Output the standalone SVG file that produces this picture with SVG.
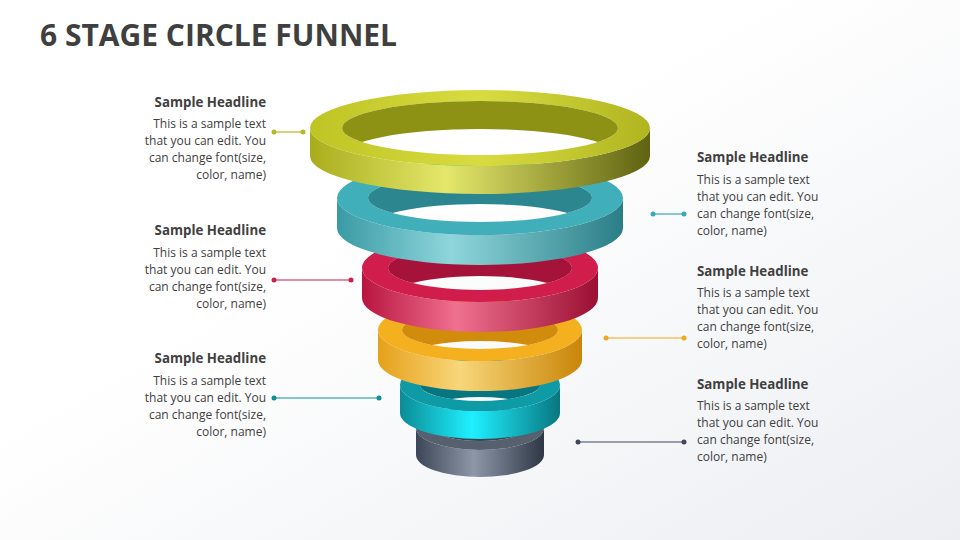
<svg xmlns="http://www.w3.org/2000/svg" width="960" height="540" viewBox="0 0 960 540">
<defs>
<linearGradient id="bg" x1="0" y1="0" x2="1" y2="1"><stop offset="0.4" stop-color="#ffffff"/><stop offset="1" stop-color="#eceef2"/></linearGradient>
<linearGradient id="s1" x1="0" x2="1"><stop offset="0" stop-color="#a9ad1c"/><stop offset="0.4" stop-color="#e4e76a"/><stop offset="1" stop-color="#5f6210"/></linearGradient>
<linearGradient id="s2" x1="0" x2="1"><stop offset="0" stop-color="#3a9aa4"/><stop offset="0.4" stop-color="#8fd6dc"/><stop offset="1" stop-color="#2a7d86"/></linearGradient>
<linearGradient id="s3" x1="0" x2="1"><stop offset="0" stop-color="#b8143f"/><stop offset="0.4" stop-color="#f0708f"/><stop offset="1" stop-color="#9a0f33"/></linearGradient>
<linearGradient id="s4" x1="0" x2="1"><stop offset="0" stop-color="#e6a01a"/><stop offset="0.4" stop-color="#f8d67a"/><stop offset="1" stop-color="#c98508"/></linearGradient>
<linearGradient id="s5" x1="0" x2="1"><stop offset="0" stop-color="#0a8c96"/><stop offset="0.45" stop-color="#1ff0ff"/><stop offset="1" stop-color="#087680"/></linearGradient>
<linearGradient id="s6" x1="0" x2="1"><stop offset="0" stop-color="#3d4656"/><stop offset="0.45" stop-color="#8d97a8"/><stop offset="1" stop-color="#2f3745"/></linearGradient>
<linearGradient id="t1" x1="0" x2="1"><stop offset="0" stop-color="#bfc425"/><stop offset="0.5" stop-color="#d8dc40"/><stop offset="1" stop-color="#b0b520"/></linearGradient>
<mask id="m1"><rect width="960" height="540" fill="#fff"/><ellipse cx="480" cy="156" rx="138" ry="27" fill="#000"/></mask>
<mask id="m2"><rect width="960" height="540" fill="#fff"/><ellipse cx="480" cy="228" rx="112" ry="24" fill="#000"/></mask>
<mask id="m3"><rect width="960" height="540" fill="#fff"/><ellipse cx="480" cy="298" rx="92" ry="22" fill="#000"/></mask>
<mask id="m4"><rect width="960" height="540" fill="#fff"/><ellipse cx="480" cy="360" rx="78" ry="19" fill="#000"/></mask>
<mask id="m5"><rect width="960" height="540" fill="#fff"/><ellipse cx="480" cy="413" rx="60" ry="16" fill="#000"/></mask>
<mask id="m6"><rect width="960" height="540" fill="#fff"/><ellipse cx="480" cy="455" rx="46" ry="13" fill="#000"/></mask>
</defs>
<style>
.h{font-family:"Open Sans","Liberation Sans",sans-serif;font-weight:bold;font-size:13.3px;fill:#404040}
.b{font-family:"Open Sans","Liberation Sans",sans-serif;font-size:12px;fill:#404040}
.r{text-anchor:end}
</style>
<rect width="960" height="540" fill="url(#bg)"/>
<text x="40" y="46" font-family="Open Sans,Liberation Sans,sans-serif" font-weight="bold" font-size="30" fill="#3f3f3f">6 STAGE CIRCLE FUNNEL</text>

<g id="ring6">
<path d="M416,428 A64,22 0 0 0 544,428 L544,455 A64,22 0 0 1 416,455 Z" fill="url(#s6)"/>
<path fill-rule="evenodd" fill="#56606f" d="M416,428 A64,22 0 1 0 544,428 A64,22 0 1 0 416,428 Z M434,428 A46,13 0 1 0 526,428 A46,13 0 1 0 434,428 Z"/>
<ellipse cx="480" cy="428" rx="46" ry="13" fill="#3b4350" mask="url(#m6)"/>
</g>
<g id="ring5">
<path d="M400,385 A80,26 0 0 0 560,385 L560,413 A80,26 0 0 1 400,413 Z" fill="url(#s5)"/>
<path fill-rule="evenodd" fill="#0f9ba6" d="M400,385 A80,26 0 1 0 560,385 A80,26 0 1 0 400,385 Z M420,385 A60,16 0 1 0 540,385 A60,16 0 1 0 420,385 Z"/>
<ellipse cx="480" cy="385" rx="60" ry="16" fill="#087680" mask="url(#m5)"/>
</g>
<g id="ring4">
<path d="M378,330 A102,31 0 0 0 582,330 L582,360 A102,31 0 0 1 378,360 Z" fill="url(#s4)"/>
<path fill-rule="evenodd" fill="#f4b01e" d="M378,330 A102,31 0 1 0 582,330 A102,31 0 1 0 378,330 Z M402,330 A78,19 0 1 0 558,330 A78,19 0 1 0 402,330 Z"/>
<ellipse cx="480" cy="330" rx="78" ry="19" fill="#d28c0c" mask="url(#m4)"/>
</g>
<g id="ring3">
<path d="M362,268 A118,34 0 0 0 598,268 L598,298 A118,34 0 0 1 362,298 Z" fill="url(#s3)"/>
<path fill-rule="evenodd" fill="#d11d4c" d="M362,268 A118,34 0 1 0 598,268 A118,34 0 1 0 362,268 Z M388,268 A92,22 0 1 0 572,268 A92,22 0 1 0 388,268 Z"/>
<ellipse cx="480" cy="268" rx="92" ry="22" fill="#a5123a" mask="url(#m3)"/>
</g>
<g id="ring2">
<path d="M337,198 A143,37 0 0 0 623,198 L623,228 A143,37 0 0 1 337,228 Z" fill="url(#s2)"/>
<path fill-rule="evenodd" fill="#40afba" d="M337,198 A143,37 0 1 0 623,198 A143,37 0 1 0 337,198 Z M368,198 A112,24 0 1 0 592,198 A112,24 0 1 0 368,198 Z"/>
<ellipse cx="480" cy="198" rx="112" ry="24" fill="#2b8690" mask="url(#m2)"/>
</g>
<g id="ring1">
<path d="M310,128 A170,38 0 0 0 650,128 L650,156 A170,38 0 0 1 310,156 Z" fill="url(#s1)"/>
<path fill-rule="evenodd" fill="url(#t1)" d="M310,128 A170,38 0 1 0 650,128 A170,38 0 1 0 310,128 Z M342,128 A138,27 0 1 0 618,128 A138,27 0 1 0 342,128 Z"/>
<ellipse cx="480" cy="128" rx="138" ry="27" fill="#8e9214" mask="url(#m1)"/>
</g>

<g id="connectors" stroke-width="1.2">
<line x1="274" y1="132" x2="303" y2="132" stroke="#b5ba22"/><circle cx="274" cy="132" r="2.5" fill="#b5ba22"/><circle cx="303" cy="132" r="2.5" fill="#b5ba22"/>
<line x1="653" y1="214" x2="684" y2="214" stroke="#3aa9b4"/><circle cx="653" cy="214" r="2.5" fill="#3aa9b4"/><circle cx="684" cy="214" r="2.5" fill="#3aa9b4"/>
<line x1="274" y1="280" x2="351" y2="280" stroke="#cf1f4d"/><circle cx="274" cy="280" r="2.5" fill="#cf1f4d"/><circle cx="351" cy="280" r="2.5" fill="#cf1f4d"/>
<line x1="606" y1="338" x2="684" y2="338" stroke="#f0a91c"/><circle cx="606" cy="338" r="2.5" fill="#f0a91c"/><circle cx="684" cy="338" r="2.5" fill="#f0a91c"/>
<line x1="274" y1="398" x2="379" y2="398" stroke="#0e8f99"/><circle cx="274" cy="398" r="2.5" fill="#0e8f99"/><circle cx="379" cy="398" r="2.5" fill="#0e8f99"/>
<line x1="578" y1="442" x2="684" y2="442" stroke="#3f4858"/><circle cx="578" cy="442" r="2.5" fill="#3f4858"/><circle cx="684" cy="442" r="2.5" fill="#3f4858"/>
</g>

<g id="label1"><text class="h r" x="266" y="107">Sample Headline</text><text class="b r" x="266" y="128">This is a sample text</text><text class="b r" x="266" y="145">that you can edit. You</text><text class="b r" x="266" y="162">can change font(size,</text><text class="b r" x="266" y="179">color, name)</text></g>
<g id="label3"><text class="h r" x="266" y="235">Sample Headline</text><text class="b r" x="266" y="257">This is a sample text</text><text class="b r" x="266" y="274">that you can edit. You</text><text class="b r" x="266" y="291">can change font(size,</text><text class="b r" x="266" y="308">color, name)</text></g>
<g id="label5"><text class="h r" x="266" y="363">Sample Headline</text><text class="b r" x="266" y="385">This is a sample text</text><text class="b r" x="266" y="402">that you can edit. You</text><text class="b r" x="266" y="419">can change font(size,</text><text class="b r" x="266" y="436">color, name)</text></g>
<g id="label2"><text class="h" x="697" y="162">Sample Headline</text><text class="b" x="697" y="184">This is a sample text</text><text class="b" x="697" y="201">that you can edit. You</text><text class="b" x="697" y="218">can change font(size,</text><text class="b" x="697" y="235">color, name)</text></g>
<g id="label4"><text class="h" x="697" y="276">Sample Headline</text><text class="b" x="697" y="297">This is a sample text</text><text class="b" x="697" y="314">that you can edit. You</text><text class="b" x="697" y="331">can change font(size,</text><text class="b" x="697" y="348">color, name)</text></g>
<g id="label6"><text class="h" x="697" y="389">Sample Headline</text><text class="b" x="697" y="410">This is a sample text</text><text class="b" x="697" y="427">that you can edit. You</text><text class="b" x="697" y="444">can change font(size,</text><text class="b" x="697" y="461">color, name)</text></g>
</svg>
